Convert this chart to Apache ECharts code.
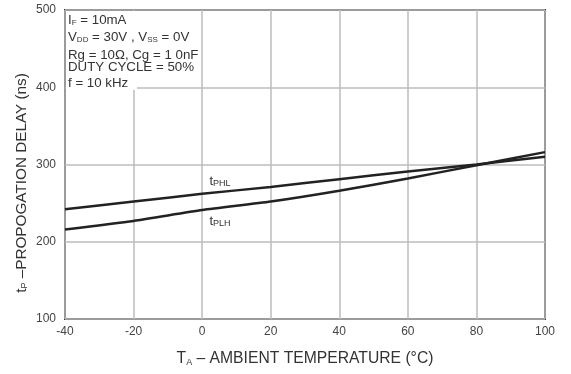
<!DOCTYPE html>
<html>
<head>
<meta charset="utf-8">
<script src="https://cdn.jsdelivr.net/npm/echarts@6/dist/echarts.min.js"></script>
<style>
  html, body { margin: 0; padding: 0; background: #fff; }
  #chart { width: 571px; height: 374px; }
</style>
</head>
<body>
<div id="chart"></div>
<script>
// Ambient temperature (°C) at which each delay was read
const temperatures = [-40, -20, 0, 20, 40, 60, 80, 100];
// High-to-low propagation delay (ns)
const tPHL = [242, 252, 262, 271, 281, 291, 300, 310];
// Low-to-high propagation delay (ns)
const tPLH = [216, 227, 241, 252, 266, 282, 299, 316];
// Axis ranges and tick steps
const xTicks = { min: -40, max: 100, step: 20 };
const yTicks = { min: 100, max: 500, step: 100 };
// Where the curve names sit (temperature, delay)
const phlLabelAt = [2, 278];
const plhLabelAt = [2, 226];
// Test-condition lines
const conditions = [
  '{m|I}{s|F}{m| = 10mA}',
  '{m|V}{s|DD}{m| = 30V , V}{s|SS}{m| = 0V}',
  '{m|Rg = 10Ω, Cg = 1 0nF}',
  '{m|DUTY CYCLE = 50%}',
  '{m|f = 10 kHz}'
];

const FONT = '"Liberation Sans", Arial, sans-serif';
const TEXT = '#333';

const sub = { fontSize: 9, fontFamily: FONT, color: TEXT, verticalAlign: 'bottom', padding: [6, 0, 0, 0], lineHeight: 10 };

function pairs(ys) { return temperatures.map((t, i) => [t, ys[i]]); }

function curveName(coord, subText) {
  return {
    symbol: 'circle',
    symbolSize: 1,
    itemStyle: { color: 'rgba(0,0,0,0)' },
    silent: true,
    data: [{
      coord: coord,
      label: {
        show: true,
        position: 'right',
        distance: 0,
        formatter: '{m|t}{s|' + subText + '}',
        rich: {
          m: { fontSize: 13, fontFamily: FONT, color: TEXT },
          s: sub
        }
      }
    }]
  };
}

// one graphic text per condition line, spaced as printed
const condTops = [13, 30, 49, 61, 77];
const condGraphics = conditions.map((line, i) => ({
  type: 'text',
  left: 68, top: condTops[i],
  z: 11,
  style: {
    text: line,
    rich: {
      m: { fontSize: 13.3, fontFamily: FONT, fill: TEXT, lineHeight: 14 },
      s: { fontSize: 8, fontFamily: FONT, fill: TEXT, verticalAlign: 'bottom', padding: [6, 0, 0, 0], lineHeight: 10 }
    }
  }
}));

const chart = echarts.init(document.getElementById('chart'));
chart.setOption({
  animation: false,
  backgroundColor: '#fff',
  grid: {
    left: 65, right: 26, top: 10, bottom: 55,
    show: true, borderColor: '#3a3a3a', borderWidth: 2, backgroundColor: '#fff'
  },
  xAxis: {
    type: 'value',
    min: xTicks.min, max: xTicks.max, interval: xTicks.step,
    axisLine: { show: false },
    axisTick: { show: false },
    splitLine: { show: true, lineStyle: { color: '#bdbdbd', width: 1.5 } },
    axisLabel: { color: '#444', fontSize: 12, fontFamily: FONT, margin: 7 },
    name: '{m|T}{s|A}{m| – AMBIENT TEMPERATURE (°C)}',
    nameLocation: 'middle',
    nameGap: 32,
    nameTextStyle: {
      rich: {
        m: { fontSize: 15.7, fontFamily: FONT, color: TEXT },
        s: { fontSize: 9, fontFamily: FONT, color: TEXT, verticalAlign: 'bottom', padding: [6, 0, 0, 0], lineHeight: 10 }
      }
    }
  },
  yAxis: {
    type: 'value',
    min: yTicks.min, max: yTicks.max, interval: yTicks.step,
    axisLine: { show: false },
    axisTick: { show: false },
    splitLine: { show: true, lineStyle: { color: '#bdbdbd', width: 1.5 } },
    axisLabel: { color: '#444', fontSize: 12, fontFamily: FONT, margin: 9, verticalAlign: 'middle' }
  },
  series: [
    {
      name: 'tPHL',
      type: 'line',
      data: pairs(tPHL),
      smooth: 0.2,
      symbol: 'none',
      lineStyle: { color: '#222', width: 2.5 },
      z: 3,
      markPoint: curveName(phlLabelAt, 'PHL')
    },
    {
      name: 'tPLH',
      type: 'line',
      data: pairs(tPLH),
      smooth: 0.2,
      symbol: 'none',
      lineStyle: { color: '#222', width: 2.5 },
      z: 3,
      markPoint: curveName(plhLabelAt, 'PLH')
    }
  ],
  graphic: [
    {
      // white panel behind the test conditions
      type: 'rect',
      left: 66, top: 11,
      shape: { width: 71, height: 79 },
      style: { fill: '#fff' },
      z: 10
    },
    {
      // vertical axis title, set a little below the plot's middle
      type: 'text',
      x: 22, y: 183,
      rotation: Math.PI / 2,
      z: 11,
      style: {
        text: '{m|t}{s|P}{m| –PROPOGATION DELAY (ns)}',
        align: 'center',
        verticalAlign: 'middle',
        rich: {
          m: { fontSize: 15.3, fontFamily: FONT, fill: TEXT },
          s: { fontSize: 9, fontFamily: FONT, fill: TEXT, verticalAlign: 'bottom', padding: [6, 0, 0, 0], lineHeight: 10 }
        }
      }
    }
  ].concat(condGraphics)
});
</script>
</body>
</html>
